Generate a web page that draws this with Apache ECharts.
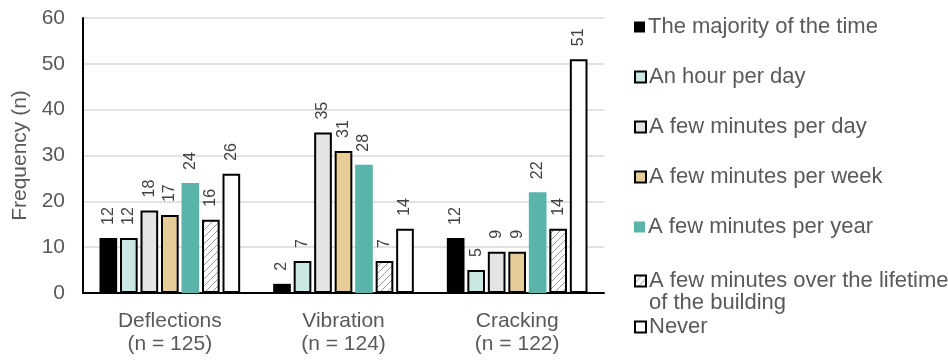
<!DOCTYPE html>
<html>
<head>
<meta charset="utf-8">
<script src="https://cdn.jsdelivr.net/npm/echarts@6/dist/echarts.min.js"></script>
<style>
  html, body { margin: 0; padding: 0; background: #fff; }
  #chart { width: 948px; height: 363px; }
</style>
</head>
<body>
<div id="chart"></div>
<script>
// Categories along the x axis (two-line labels)
const categories = ['Deflections\n(n = 125)', 'Vibration\n(n = 124)', 'Cracking\n(n = 122)'];

// Response frequencies per category
const majorityOfTime   = [12, 2, 12];
const hourPerDay       = [12, 7, 5];
const minutesPerDay    = [18, 35, 9];
const minutesPerWeek   = [17, 31, 9];
const minutesPerYear   = [24, 28, 22];
const minutesLifetime  = [16, 7, 14];
const never            = [26, 14, 51];

const seriesNames = [
  'The majority of the time',
  'An hour per day',
  'A few minutes per day',
  'A few minutes per week',
  'A few minutes per year',
  'A few minutes over the lifetime of the building',
  'Never'
];

// Legend text, wrapped where needed
const legendLabels = [
  'The majority of the time',
  'An hour per day',
  'A few minutes per day',
  'A few minutes per week',
  'A few minutes per year',
  ['A few minutes over the lifetime', 'of the building'],
  'Never'
];

const yTicks = { min: 0, max: 60, interval: 10 };

// Diagonal hatch fill for the "lifetime" series
function makeHatch() {
  const c = document.createElement('canvas');
  const s = 7;
  c.width = s; c.height = s;
  const ctx = c.getContext('2d');
  ctx.fillStyle = '#ffffff';
  ctx.fillRect(0, 0, s, s);
  ctx.strokeStyle = '#9a9a9a';
  ctx.lineWidth = 1;
  ctx.beginPath();
  ctx.moveTo(-1, s + 1); ctx.lineTo(s + 1, -1);
  ctx.moveTo(-1, 1); ctx.lineTo(1, -1);
  ctx.moveTo(s - 1, s + 1); ctx.lineTo(s + 1, s - 1);
  ctx.stroke();
  return c;
}
const hatch = { image: makeHatch(), repeat: 'repeat' };

const styles = [
  { color: '#000000', borderColor: '#000000', borderWidth: 0 },
  { color: '#cbe7e4', borderColor: '#000000', borderWidth: 2 },
  { color: '#e4e4e4', borderColor: '#000000', borderWidth: 2 },
  { color: '#e6cc97', borderColor: '#000000', borderWidth: 2 },
  { color: '#5bb4aa', borderColor: '#5bb4aa', borderWidth: 0 },
  { color: hatch,     borderColor: '#000000', borderWidth: 2 },
  { color: '#ffffff', borderColor: '#000000', borderWidth: 2 }
];

const dataSets = [majorityOfTime, hourPerDay, minutesPerDay, minutesPerWeek,
                  minutesPerYear, minutesLifetime, never];

const FONT = 'Arial, "Liberation Sans", sans-serif';
const GREY = '#595959';

const series = seriesNames.map((name, i) => ({
  name: name,
  type: 'bar',
  data: dataSets[i],
  barGap: '16%',
  barCategoryGap: '19%',
  itemStyle: styles[i],
  label: {
    show: true,
    position: 'top',
    rotate: 90,
    align: 'left',
    verticalAlign: 'middle',
    distance: 13,
    color: '#404040',
    fontFamily: FONT,
    fontSize: 16
  },
  emphasis: { disabled: true }
}));

// One legend block per series so every entry keeps a fixed row.
// A wrapped entry gets a leading blank line so its icon sits on the first line.
const LEGEND_LINE = 22;
const legendCentres = [27, 77, 127, 177, 227, 281, 327];
const legends = seriesNames.map((name, i) => {
  const lbl = legendLabels[i];
  const lines = Array.isArray(lbl) ? ['', ...lbl] : [lbl];
  const text = lines.join('\n');
  const boxH = Array.isArray(lbl) ? LEGEND_LINE * 3 : LEGEND_LINE;
  return {
    data: [name],
    orient: 'vertical',
    left: 634,
    top: legendCentres[i] - boxH / 2,
    padding: 0,
    icon: 'rect',
    itemWidth: 11,
    itemHeight: 11,
    selectedMode: false,
    formatter: () => text,
    itemStyle: {
      borderColor: '#000000',
      borderWidth: styles[i].borderWidth ? 2 : 0
    },
    textStyle: {
      color: GREY,
      fontFamily: FONT,
      fontSize: 22,
      lineHeight: LEGEND_LINE,
      padding: [0, 0, 0, -2]
    }
  };
});

const chart = echarts.init(document.getElementById('chart'), null, { renderer: 'canvas' });
chart.setOption({
  animation: false,
  backgroundColor: '#ffffff',
  grid: { left: 83, right: 344, top: 18, bottom: 70, containLabel: false },
  legend: legends,
  xAxis: {
    type: 'category',
    data: categories,
    axisLine: { show: true, lineStyle: { color: '#000000', width: 2 } },
    axisTick: { show: false },
    axisLabel: {
      color: GREY,
      fontFamily: FONT,
      fontSize: 21,
      lineHeight: 23,
      margin: 17
    }
  },
  yAxis: {
    type: 'value',
    min: yTicks.min,
    max: yTicks.max,
    interval: yTicks.interval,
    name: 'Frequency (n)',
    nameLocation: 'middle',
    nameGap: 46,
    nameTextStyle: { color: GREY, fontFamily: FONT, fontSize: 21 },
    axisLine: { show: true, lineStyle: { color: '#000000', width: 2 } },
    axisTick: { show: false },
    axisLabel: { color: GREY, fontFamily: FONT, fontSize: 21, margin: 18 },
    splitLine: { lineStyle: { color: '#d9d9d9', width: 1.5 } }
  },
  series: series
});
</script>
</body>
</html>
